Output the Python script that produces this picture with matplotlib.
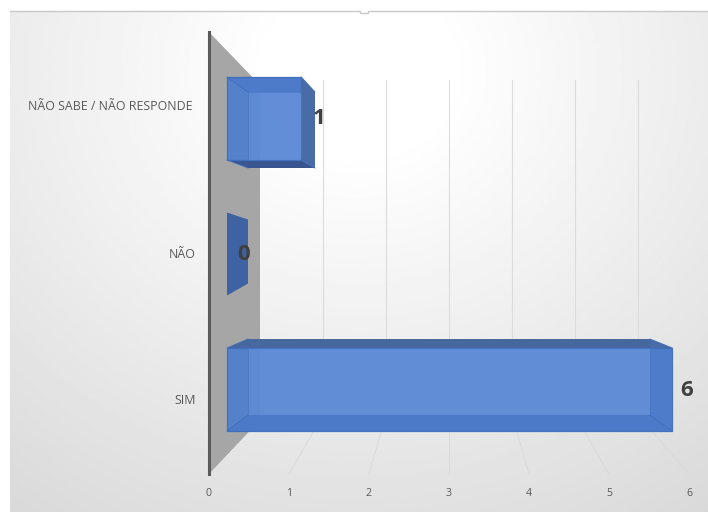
import numpy as np
import matplotlib
matplotlib.use("Agg")
import matplotlib.pyplot as plt
from matplotlib.patches import Polygon, Rectangle

# Dados do grafico (de baixo para cima)
categorias = ['SIM', 'NÃO', 'NÃO SABE / NÃO RESPONDE']
valores = [6, 0, 1]
ticks = [0, 1, 2, 3, 4, 5, 6]

plt.rcParams['font.family'] = ['Open Sans', 'DejaVu Sans']

fig = plt.figure(figsize=(7.08, 5.12), dpi=100)
ax = fig.add_axes([0, 0, 1, 1])


# Escalas da projecao: chao, parede do fundo e as duas faces das barras
def x_chao(v):
    return 209 + 80 * v


def x_parede(v):
    return 260 + 63 * v


def x_face_a(v):
    return 227 + 74.2 * v


def x_face_b(v):
    return 248 + 67 * v


def y_face_a(i):
    return 348 - 135.5 * i, 431 - 135.5 * i


def y_face_b(i):
    return 339 - 123.5 * i, 415 - 123.5 * i


# Fundo com gradiente radial claro
yy, xx = np.mgrid[0:1:256j, 0:1:256j]
dist = np.sqrt(((xx - 0.5) / 0.85) ** 2 + ((yy - 0.12) / 1.05) ** 2)
fundo = 1.0 - 0.17 * np.clip(dist - 0.15, 0, 1)
ax.imshow(fundo, extent=(10, 708, 512, 11), cmap='gray', vmin=0, vmax=1,
          aspect='auto', zorder=0, interpolation='bilinear')
ax.set_xlim(0, 708)
ax.set_ylim(512, 0)
ax.axis('off')
ax.plot([10, 360, 360, 368, 368, 708], [11, 11, 13, 13, 11, 11], color='#c8c8c8', lw=1, zorder=1)

# Grades na parede do fundo e no chao
for t in ticks[1:]:
    ax.plot([x_parede(t), x_parede(t)], [80, 415], color='#dcdcdc', lw=0.8, zorder=1)
    ax.plot([x_parede(t), x_chao(t)], [415, 474], color='#dadada', lw=0.7, zorder=1)

# Parede lateral cinza
ax.add_patch(Polygon([(209, 32), (260, 85), (260, 420), (209, 474)],
                     closed=True, facecolor='#a6a6a6', edgecolor='none', zorder=2))
ax.plot([209, 209], [32, 474], color='#5a5a5a', lw=2.2, zorder=3)

# Barras em falso 3D
for i, v in enumerate(valores):
    a0, a1 = x_face_a(0), x_face_a(v)
    b0, b1 = x_face_b(0), x_face_b(v)
    at, ab = y_face_a(i)
    bt, bb = y_face_b(i)

    if v == 0:
        ax.add_patch(Polygon([(a0, at), (b0, at + 7), (b0, ab - 12), (a0, ab)], closed=True,
                             facecolor='#3f62a3', edgecolor='none', zorder=4))
        continue

    # Partes de tras, vistas fora da face da frente
    ax.add_patch(Polygon([(a0, at), (a1, at), (b1, bt), (b0, bt)], closed=True,
                         facecolor='#47689f', edgecolor='none', zorder=4))
    ax.add_patch(Polygon([(a1, at), (b1, bt), (b1, bb), (a1, ab)], closed=True,
                         facecolor='#4a6ca6', edgecolor='none', zorder=4))
    ax.add_patch(Polygon([(a0, ab), (a1, ab), (b1, bb), (b0, bb)], closed=True,
                         facecolor='#3a5690', edgecolor='none', zorder=4))

    # Face da frente, transparente sobre a parede
    ax.add_patch(Rectangle((a0, at), a1 - a0, ab - at, facecolor='#4f7dcd',
                           edgecolor='#3f6ebd', lw=0.9, alpha=0.93, zorder=5))

    # Miolo um pouco mais claro onde as duas faces se cobrem
    xi0, xi1 = max(a0, b0), min(a1, b1)
    yi0, yi1 = max(at, bt), min(ab, bb)
    ax.add_patch(Rectangle((xi0, yi0), xi1 - xi0, yi1 - yi0, facecolor='#6f9be4',
                           edgecolor='#3f6ebd', lw=0.7, alpha=0.38, zorder=6))

    # Arestas diagonais da caixa
    for xa, ya, xb, yb in [(a0, at, b0, bt), (a1, at, b1, bt), (a0, ab, b0, bb), (a1, ab, b1, bb)]:
        ax.plot([xa, xb], [ya, yb], color='#3f6ebd', lw=0.7, alpha=0.8, zorder=7)

# Rotulos de dados
pos_rotulos = [(687, 390), (244, 255), (319, 119)]
for v, (xt, yt) in zip(valores, pos_rotulos):
    ax.text(xt, yt, str(v), fontsize=16, fontweight='bold', color='#404040',
            ha='center', va='center', zorder=8)

# Categorias e escala
pos_categorias = [(196, 400), (196, 254), (192, 107)]
for nome, (xt, yt) in zip(categorias, pos_categorias):
    ax.text(xt, yt, nome, fontsize=8.9, color='#595959', ha='right', va='center', zorder=8)
for t in ticks:
    ax.text(x_chao(t), 493, str(t), fontsize=7.6, color='#595959', ha='center', va='center', zorder=8)

plt.savefig('out.png', dpi=100)
